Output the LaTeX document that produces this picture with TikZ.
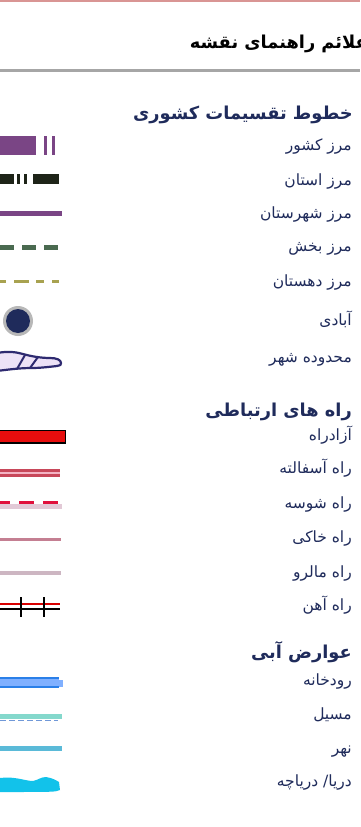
\documentclass[tikz,border=0pt]{standalone}
\usepackage{fontspec}
\newfontfamily\farsi[Script=Arabic]{DejaVu Sans}
\TeXXeTstate=1
\usetikzlibrary{positioning}

\definecolor{navy}{HTML}{1F2B5B}
\definecolor{toppink}{HTML}{D99594}
\definecolor{rulegrey}{HTML}{A6A6A6}
\definecolor{purp}{HTML}{7A4585}
\definecolor{darkgr}{HTML}{1E2418}
\definecolor{bakhsh}{HTML}{4A6A50}
\definecolor{olive}{HTML}{A8A250}
\definecolor{citynavy}{HTML}{2E2A70}
\definecolor{cityfill}{HTML}{EDE2F7}
\definecolor{roadred}{HTML}{C8485A}
\definecolor{roadpink}{HTML}{F4B4C4}
\definecolor{shosegrey}{HTML}{E2C9D6}
\definecolor{shosered}{HTML}{E0103C}
\definecolor{khaki}{HTML}{C47F92}
\definecolor{malro}{HTML}{CDB6C2}
\definecolor{riverdark}{HTML}{2A7FE8}
\definecolor{riverlight}{HTML}{80B0FF}
\definecolor{mosilteal}{HTML}{84D8CC}
\definecolor{mosilblue}{HTML}{7098D8}
\definecolor{nahrblue}{HTML}{5ABAD8}
\definecolor{seablue}{HTML}{12C2EA}

\tikzset{
    itemtext/.style={anchor=base east, inner sep=0pt, text=navy,
        font=\farsi\fontsize{15.5}{18}\selectfont},
    headtext/.style={anchor=base east, inner sep=0pt, text=navy,
        font=\farsi\bfseries\fontsize{17.8}{20}\selectfont},
}

\begin{document}
\begin{tikzpicture}[x=1pt, y=-1pt]
    \useasboundingbox (0,0) rectangle (360,827);
    \fill[white] (0,0) rectangle (360,827);
    \fill[toppink] (0,0) rectangle (360,2);
    \node[anchor=base east, inner sep=0pt, font=\farsi\bfseries\fontsize{17.8}{20}\selectfont] (title) at (368,48) {\beginR علائم راهنمای نقشه\endR};
    \fill[rulegrey] (0,69) rectangle (360,72);

    % khatoot-e taghsimat
    \node[headtext] (hdborder) at (353,119) {\beginR خطوط تقسیمات کشوری\endR};
    \node[itemtext] (country) at (352,150) {\beginR مرز کشور\endR};
    \node[itemtext] (province) at (352,185) {\beginR مرز استان\endR};
    \node[itemtext] (county) at (352,218) {\beginR مرز شهرستان\endR};
    \node[itemtext] (district) at (352,251) {\beginR مرز بخش\endR};
    \node[itemtext] (village) at (352,286) {\beginR مرز دهستان\endR};
    \node[itemtext] (settle) at (352,325) {\beginR آبادی\endR};
    \node[itemtext] (city) at (352,362) {\beginR محدوده شهر\endR};

    \fill[purp] (0,136) rectangle (36,155);
    \fill[purp] (44,136) rectangle (47,155);
    \fill[purp] (52,136) rectangle (55,155);
    \fill[darkgr] (0,174) rectangle (14,184);
    \fill[darkgr] (17.3,174) rectangle (19.5,184);
    \fill[darkgr] (24.3,174) rectangle (26.7,184);
    \fill[darkgr] (32.7,174) rectangle (59.3,184);
    \draw[purp, line width=5pt] (0,213) -- (62,213);
    \draw[bakhsh, line width=5pt, dash pattern=on 14pt off 8pt] (0,247) -- (59,247);
    \draw[olive, line width=3pt, dash pattern=on 6pt off 8pt on 15pt off 7pt on 8pt off 8pt on 7pt off 20pt] (0,281.5) -- (59,281.5);
    \fill[rulegrey!80] (18,321) circle (15);
    \fill[navy] (18,321) circle (12);
    \filldraw[citynavy, fill=cityfill, line width=2.2pt, line join=round]
        (-3,353) .. controls (8,351) and (16,352) .. (23,354)
        .. controls (30,356) and (40,358) .. (50,358)
        .. controls (57,358) and (61,360) .. (61,363)
        .. controls (61,365) .. (57,366)
        .. controls (48,367) and (40,368) .. (32,368)
        .. controls (22,368) and (12,369) .. (-3,371);
    \draw[citynavy, line width=2pt] (17,369) -- (25,355) (30,368) -- (38,357);

    % rah-ha
    \node[headtext] (hdroad) at (352,416) {\beginR راه های ارتباطی\endR};
    \node[itemtext] (freeway) at (352,440) {\beginR آزادراه\endR};
    \node[itemtext] (asphalt) at (352,473) {\beginR راه آسفالته\endR};
    \node[itemtext] (gravel) at (352,508) {\beginR راه شوسه\endR};
    \node[itemtext] (dirt) at (352,542) {\beginR راه خاکی\endR};
    \node[itemtext] (trail) at (352,577) {\beginR راه مالرو\endR};
    \node[itemtext] (rail) at (352,610) {\beginR راه آهن\endR};

    \filldraw[fill=red!90!black!95, draw=black, line width=1.5pt] (-2,430.5) rectangle (65.5,443);
    \fill[roadred] (0,469) rectangle (60,477);
    \fill[roadpink] (0,472) rectangle (60,474);
    \fill[shosegrey] (0,504) rectangle (62,509);
    \foreach \a/\b in {0/10,19/34,43/58}
        \fill[shosered] (\a,501) rectangle (\b,504);
    \fill[khaki] (0,538) rectangle (61,541);
    \fill[malro] (0,571) rectangle (61,575);
    \draw[red!85!black, line width=2pt] (0,604) -- (60,604);
    \draw[black, line width=2.5pt] (0,609) -- (60,609);
    \foreach \x in {21,44}
        \draw[black, line width=1.2pt] (\x,597) -- (\x,617);

    % avarez-e abi
    \node[headtext] (hdwater) at (352,658) {\beginR عوارض آبی\endR};
    \node[itemtext] (river) at (352,685) {\beginR رودخانه\endR};
    \node[itemtext] (wash) at (352,719) {\beginR مسیل\endR};
    \node[itemtext] (stream) at (352,753) {\beginR نهر\endR};
    \node[itemtext] (lake) at (352,786) {\beginR دریا/ دریاچه\endR};

    \fill[riverdark] (0,677) rectangle (59,688);
    \fill[riverlight] (0,679) rectangle (59,686);
    \fill[riverlight] (59,680) rectangle (63,687);
    \fill[mosilteal] (0,714) rectangle (62,719);
    \draw[mosilblue, line width=1.2pt, dash pattern=on 6pt off 3pt] (0,720.5) -- (58,720.5);
    \fill[nahrblue] (0,746) rectangle (62,751);
    \fill[seablue] (0,778) .. controls (15,776) and (25,781) .. (33,781)
        .. controls (38,780) and (41,777) .. (46,777)
        .. controls (52,778) and (56,780) .. (59,782)
        -- (60,790) .. controls (55,792) .. (0,792) -- cycle;
\end{tikzpicture}
\end{document}
